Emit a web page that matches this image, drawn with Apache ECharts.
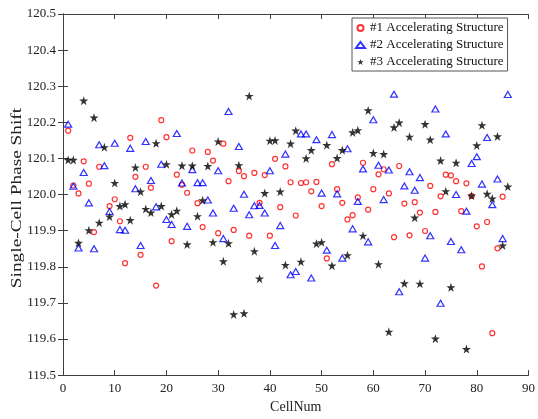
<!DOCTYPE html>
<html>
<head>
<meta charset="utf-8">
<script src="https://cdn.jsdelivr.net/npm/echarts@6/dist/echarts.min.js"></script>
<style>
  html, body { margin: 0; padding: 0; background: #fff; }
  #chart { width: 538px; height: 419px; }
</style>
</head>
<body>
<div id="chart"></div>
<script>
// Single-cell phase shift per cell (cells numbered from 1); null = no reading
const struct1 = [
  120.177, 120.025, 120.003, 120.092, 120.030, 119.896, 120.077, null, 119.968, 119.987,
  119.926, 119.810, 120.157, 120.049, 119.833, 120.077, 120.019, 119.748, 120.206, 120.159,
  119.871, 120.055, 120.027, 120.005, 120.122, 119.976, 119.910, 120.118, 120.094, 119.893,
  120.141, 120.037, 119.902, 120.065, 120.051, 119.886, 120.060, 119.977, 120.054, 119.886,
  120.099, 119.965, 120.078, 120.034, 119.942, 120.032, 120.034, 120.009, 120.035, 119.968,
  119.823, 120.084, 120.015, 119.977, 119.931, 119.943, 119.992, 120.088, 119.958, 120.015,
  120.056, 120.070, 120.003, 119.882, 120.079, 119.975, 119.887, 119.979, 119.950, 119.899,
  120.024, 119.952, 119.995, 120.055, 120.053, 120.037, 119.954, 120.031, 119.996, 119.912,
  119.801, 119.924, 119.616, 119.851, 119.994
];
const struct2 = [
  120.195, 120.023, 119.852, 120.061, 119.977, 119.850, 120.138, 120.080, 119.953, 120.142,
  119.903, 119.901, 120.128, 120.016, 119.859, 120.147, 120.039, 119.966, 120.084, 119.931,
  119.917, 120.169, 120.032, 119.912, 120.069, 120.033, 120.033, 119.985, 119.949, 120.066,
  119.878, 120.230, 119.962, 120.133, 120.001, 119.944, 119.969, 119.970, 119.949, 120.066,
  119.859, 119.914, 120.112, 119.778, 119.787, 120.168, 120.168, 119.769, 120.152, 120.004,
  119.846, 120.166, 120.002, 119.824, 120.127, 119.905, 119.981, 120.071, 119.869, 120.207,
  120.081, 119.986, 120.068, 120.278, 119.731, 120.024, 120.063, 120.012, 120.047, 119.824,
  119.886, 120.237, 119.699, 120.168, 119.870, 120.000, 119.847, 119.954, 120.086, 120.105,
  120.029, 120.158, 119.972, 120.043, 119.878, 120.277
];
const struct3 = [
  120.096, 120.096, 119.866, 120.260, 119.901, 120.213, 119.922, 120.131, 119.939, 120.032,
  119.968, 119.973, 119.929, 120.075, 120.008, 119.960, 119.950, 120.142, 119.968, 120.084,
  119.945, 119.955, 120.080, 119.862, 120.080, 119.940, 119.984, 120.079, 119.868, 120.147,
  119.815, 119.865, 119.668, 120.081, 119.671, 120.273, 119.843, 119.767, 120.004, 120.149,
  120.150, 120.008, 119.805, 120.141, 120.177, 119.814, 120.100, 120.123, 119.864, 119.868,
  120.137, 119.803, 120.101, 120.123, 119.832, 120.172, 120.178, 119.886, 120.233, 120.115,
  119.807, 120.112, 119.620, 120.186, 120.199, 119.754, 120.160, 119.936, 119.753, 120.195,
  120.152, 119.601, 120.094, 120.009, 119.743, 120.088, null, 119.572, 119.997, 120.136,
  120.192, 120.002, 119.989, 120.161, 119.859, 120.022
];
const seriesNames = [
  '#1 Accelerating Structure',
  '#2 Accelerating Structure',
  '#3 Accelerating Structure'
];
const xTitle = 'CellNum';
const yTitle = 'Single-Cell Phase Shift';

// pair each value with its cell number
function toPoints(values) {
  const pts = [];
  values.forEach((v, i) => { if (v !== null) pts.push([i + 1, v]); });
  return pts;
}

const FONT = 'Liberation Serif';
const AXIS_COLOR = '#404040';
const STAR = 'path://M50,0 L61.8,35.1 L98.9,35.1 L68.9,57 L80.3,92.4 L50,70.6 L19.7,92.4 L31.1,57 L1.1,35.1 L38.2,35.1 Z';

const boxAxis = (extra) => Object.assign({
  type: 'value',
  axisLine: { show: true, lineStyle: { color: AXIS_COLOR, width: 1 } },
  axisTick: { show: true, inside: true, length: 5, lineStyle: { color: AXIS_COLOR } },
  splitLine: { show: false },
  axisLabel: { show: false }
}, extra);

const chart = echarts.init(document.getElementById('chart'), null, { renderer: 'canvas' });
chart.setOption({
  animation: false,
  backgroundColor: '#ffffff',
  grid: { left: 63, right: 6, top: 14, bottom: 36 },
  legend: {
    orient: 'vertical',
    left: 352,
    top: 18,
    itemWidth: 9,
    itemHeight: 6,
    itemGap: 3,
    padding: [3, 4, 2, 3],
    borderColor: '#555',
    borderWidth: 1,
    backgroundColor: '#fff',
    textStyle: { fontFamily: FONT, fontSize: 13, color: '#111', lineHeight: 14 },
    data: seriesNames
  },
  // y title, stretched along its length like the exported figure
  graphic: [{
    type: 'text',
    x: 17,
    y: 198,
    rotation: Math.PI / 2,
    scaleX: 1.38,
    style: {
      text: yTitle,
      font: '14px "Liberation Serif"',
      fill: '#222',
      align: 'center',
      verticalAlign: 'middle'
    }
  }],
  xAxis: [
    boxAxis({
      min: 0, max: 90, interval: 10, position: 'bottom',
      name: xTitle, nameLocation: 'middle', nameGap: 20,
      nameTextStyle: { fontFamily: FONT, fontSize: 14, color: '#222' },
      axisLabel: { show: true, margin: 7, fontFamily: FONT, fontSize: 13, color: '#222' }
    }),
    boxAxis({ min: 0, max: 90, interval: 10, position: 'top' })
  ],
  yAxis: [
    boxAxis({
      min: 119.5, max: 120.5, interval: 0.1, position: 'left',
      axisLabel: {
        show: true, margin: 7, fontFamily: FONT, fontSize: 13, color: '#222',
        formatter: (v) => v.toFixed(1)
      }
    }),
    boxAxis({ min: 119.5, max: 120.5, interval: 0.1, position: 'right' })
  ],
  series: [
    {
      name: seriesNames[0], type: 'scatter', data: toPoints(struct1),
      symbol: 'circle', symbolSize: 5, z: 2,
      itemStyle: { color: 'rgba(255,255,255,0)', borderColor: '#ff0000', borderWidth: 1.2 }
    },
    {
      name: seriesNames[1], type: 'scatter', data: toPoints(struct2),
      symbol: 'triangle', symbolSize: [7, 6], z: 3,
      itemStyle: { color: 'rgba(255,255,255,0)', borderColor: '#0000ff', borderWidth: 1.2 }
    },
    {
      name: seriesNames[2], type: 'scatter', data: toPoints(struct3),
      symbol: STAR, symbolSize: 9, z: 4,
      itemStyle: { color: '#000000' }
    }
  ]
});
</script>
</body>
</html>
